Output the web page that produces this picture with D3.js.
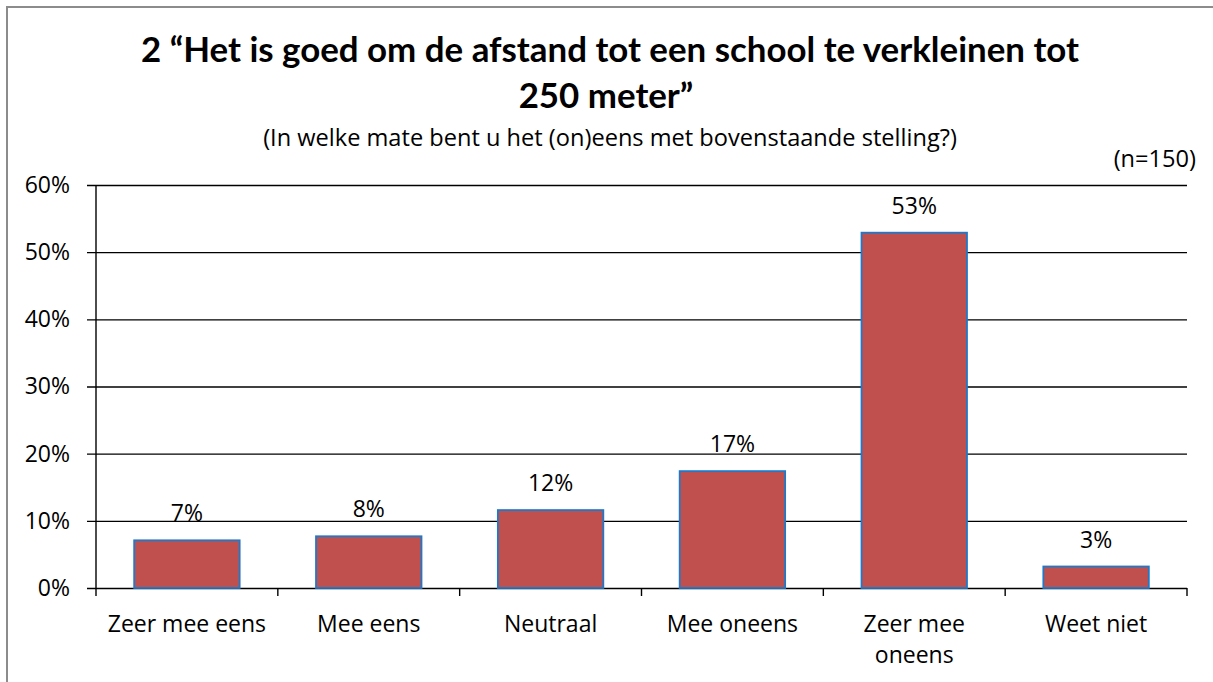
<!DOCTYPE html>
<html>
<head>
<meta charset="utf-8">
<script src="https://cdn.jsdelivr.net/npm/d3@7"></script>
<style>
  html, body { margin: 0; background: #fff; overflow: hidden; }
  svg { display: block; }
  text { font-family: "Open Sans", Lato, sans-serif; fill: #000; }
</style>
</head>
<body>
<div id="chart"></div>
<script>
// chart values
var categories = ["Zeer mee eens", "Mee eens", "Neutraal", "Mee oneens", "Zeer mee oneens", "Weet niet"];
var values = [7.1, 7.7, 11.6, 17.4, 52.9, 3.2];
var labels = ["7%", "8%", "12%", "17%", "53%", "3%"];
var yTicks = [0, 10, 20, 30, 40, 50, 60];

var svgWidth = 1213;
var svgHeight = 682;

var margin = { top: 185, right: 26, bottom: 94, left: 96 };
var width = svgWidth - margin.left - margin.right;
var height = svgHeight - margin.top - margin.bottom;

var labelSize = 23;

var svg = d3.select("#chart")
  .append("svg")
  .attr("width", svgWidth)
  .attr("height", svgHeight);

// grey frame of the chart area, only top and left edge are in view
svg.append("path")
  .attr("d", `M7,${svgHeight} L7,7 L${svgWidth},7`)
  .attr("fill", "none")
  .attr("stroke", "#8c8c8c")
  .attr("stroke-width", 2);

// fit a text to a target width
function fitWidth(sel, target) {
  var w = sel.node().getComputedTextLength();
  var fs = parseFloat(sel.attr("font-size"));
  sel.attr("font-size", fs * target / w);
}

var t1 = svg.append("text")
  .attr("x", 610).attr("y", 62)
  .attr("text-anchor", "middle")
  .attr("font-size", 30)
  .attr("font-weight", "bold")
  .style("font-family", "Lato, sans-serif")
  .text("2 \u201cHet is goed om de afstand tot een school te verkleinen tot");
fitWidth(t1, 938);

svg.append("text")
  .attr("x", 606).attr("y", 108)
  .attr("text-anchor", "middle")
  .attr("font-size", t1.attr("font-size"))
  .attr("font-weight", "bold")
  .style("font-family", "Lato, sans-serif")
  .text("250 meter\u201d");

var sub = svg.append("text")
  .attr("x", 610).attr("y", 146)
  .attr("text-anchor", "middle")
  .attr("font-size", 20)
  .text("(In welke mate bent u het (on)eens met bovenstaande stelling?)");
fitWidth(sub, 694);

svg.append("text")
  .attr("x", 1196).attr("y", 167)
  .attr("text-anchor", "end")
  .attr("font-size", sub.attr("font-size"))
  .text("(n=150)");

var chartGroup = svg.append("g")
  .attr("transform", `translate(${margin.left}, ${margin.top})`);

var xBandScale = d3.scaleBand()
  .domain(categories)
  .range([0, width])
  .paddingInner(0.42)
  .paddingOuter(0.21);

var yLinearScale = d3.scaleLinear()
  .domain([0, 60])
  .range([height, 0]);

// gridlines + y labels
var leftAxis = d3.axisLeft(yLinearScale)
  .tickValues(yTicks)
  .tickSize(-(width + 9))
  .tickPadding(17)
  .tickFormat(d => d + "%");

var yAxis = chartGroup.append("g")
  .attr("transform", "translate(-9,0)")
  .call(leftAxis);
yAxis.select(".domain").remove();
yAxis.selectAll("line").attr("stroke", "#000").attr("stroke-width", 1.4);
yAxis.selectAll("text")
  .attr("font-size", labelSize)
  .attr("fill", "#000");

// vertical axis line
chartGroup.append("line")
  .attr("x1", 0).attr("x2", 0)
  .attr("y1", 0).attr("y2", height)
  .attr("stroke", "#000").attr("stroke-width", 1.4);

// category tick marks at band edges
var step = xBandScale.step();
var edges = categories.map(d => xBandScale(d) - step * xBandScale.paddingInner() / 2);
edges.push(width);
chartGroup.selectAll(".xtick")
  .data(edges)
  .enter()
  .append("line")
  .attr("class", "xtick")
  .attr("x1", d => d).attr("x2", d => d)
  .attr("y1", height).attr("y2", height + 8)
  .attr("stroke", "#000").attr("stroke-width", 1.4);

// bars
chartGroup.selectAll("rect.bar")
  .data(values)
  .enter()
  .append("rect")
  .attr("class", "bar")
  .attr("x", (d, i) => xBandScale(categories[i]))
  .attr("y", d => yLinearScale(d))
  .attr("width", xBandScale.bandwidth())
  .attr("height", d => height - yLinearScale(d))
  .attr("fill", "#C0504D")
  .attr("stroke", "#1F78C8")
  .attr("stroke-width", 1.8);

// data labels
chartGroup.selectAll(".dlabel")
  .data(values)
  .enter()
  .append("text")
  .attr("class", "dlabel")
  .attr("x", (d, i) => xBandScale(categories[i]) + xBandScale.bandwidth() / 2)
  .attr("y", d => yLinearScale(d) - 19)
  .attr("text-anchor", "middle")
  .attr("font-size", labelSize)
  .text((d, i) => labels[i]);

// category labels, long one wraps to two lines
var catLines = categories.map(c => c === "Zeer mee oneens" ? ["Zeer mee", "oneens"] : [c]);
var catText = chartGroup.selectAll(".clabel")
  .data(categories)
  .enter()
  .append("text")
  .attr("class", "clabel")
  .attr("x", d => xBandScale(d) + xBandScale.bandwidth() / 2)
  .attr("y", height + 44)
  .attr("text-anchor", "middle")
  .attr("font-size", labelSize);

catText.each(function(d, i) {
  d3.select(this).selectAll("tspan")
    .data(catLines[i])
    .enter()
    .append("tspan")
    .attr("x", xBandScale(d) + xBandScale.bandwidth() / 2)
    .attr("dy", (l, j) => j === 0 ? 0 : 31)
    .text(l => l);
});
</script>
</body>
</html>
